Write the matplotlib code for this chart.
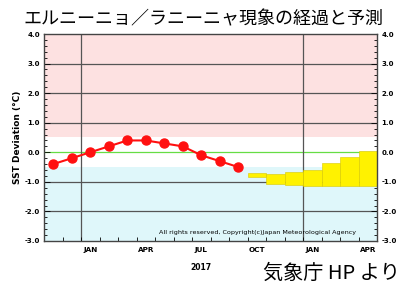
import matplotlib
matplotlib.use("Agg")
import matplotlib.pyplot as plt
from matplotlib.patches import Rectangle
import numpy as np

plt.rcParams["font.family"] = ["Noto Sans CJK JP", "DejaVu Sans"]

# observed monthly SST deviation, Nov 2016 - Sep 2017 (month index 0 = Nov 2016)
obs_month = [0, 1, 2, 3, 4, 5, 6, 7, 8, 9, 10]
obs_val = [-0.4, -0.2, 0.0, 0.2, 0.4, 0.4, 0.3, 0.2, -0.1, -0.3, -0.5]

# forecast range boxes, Oct 2017 - Apr 2018
fc_month = [11, 12, 13, 14, 15, 16, 17]
fc_low = [-0.83, -1.07, -1.12, -1.15, -1.15, -1.15, -1.15]
fc_high = [-0.69, -0.74, -0.68, -0.6, -0.35, -0.17, 0.05]

xt_pos = [2, 5, 8, 11, 14, 17]
xt_lab = ["JAN", "APR", "JUL", "OCT", "JAN", "APR"]
yt = [-3, -2, -1, 0, 1, 2, 3, 4]

C_PINK = "#fde1e1"
C_BLUE = "#dff7fa"
C_RED = "#ff1010"
C_YEL = "#fff200"

fig = plt.figure(figsize=(4.09, 2.85), dpi=100)
ax = fig.add_axes([0.1076, 0.1544, 0.8142, 0.7263])

ax.set_xlim(0, 18)
ax.set_ylim(-3, 4)

ax.axhspan(0.5, 4, color=C_PINK, lw=0, zorder=0)
ax.axhspan(-3, -0.5, color=C_BLUE, lw=0, zorder=0)

for y in [-2, -1, 1, 2, 3]:
    ax.axhline(y, color="#555555", lw=0.9, zorder=1)
ax.axhline(0, color="#66dd44", lw=0.9, zorder=1)
for x in [2, 14]:
    ax.axvline(x, color="#555555", lw=0.9, zorder=1)

for m, lo, hi in zip(fc_month, fc_low, fc_high):
    ax.add_patch(Rectangle((m, lo), 1, hi - lo, facecolor=C_YEL,
                           edgecolor="#d8c800", lw=0.4, zorder=2))

xs = np.array(obs_month) + 0.5
ax.plot(xs, obs_val, color=C_RED, lw=1.5, marker="o", ms=6.5, zorder=3)

ax.text(16.85, -2.72, "All rights reserved, Copyright(c)Japan Meteorological Agency",
        ha="right", va="center", fontsize=4.6, family="DejaVu Sans", zorder=4)

# axes ticks
ax.set_xticks(np.arange(0, 19))
ax.set_xticklabels([])
ax.tick_params(axis="x", which="major", direction="in", length=3, width=0.6)
for p, l in zip(xt_pos, xt_lab):
    ax.text(p + 0.5, -3.2, l, ha="center", va="top", fontsize=5.2,
            fontweight="bold", family="DejaVu Sans")
ax.text(8.5, -3.75, "2017", ha="center", va="top", fontsize=5.5,
        fontweight="bold", family="DejaVu Sans")

ax.set_yticks(yt)
ax.set_yticklabels([f"{v:.1f}" for v in yt], fontsize=5, fontweight="bold",
                   family="DejaVu Sans")
ax.set_yticks(np.arange(-3, 4.01, 0.2), minor=True)
ax.tick_params(axis="y", which="both", direction="in", left=True, right=True,
               labelleft=True, labelright=True, width=0.6)
ax.tick_params(axis="y", which="major", length=4)
ax.tick_params(axis="y", which="minor", length=2.5)
ax.tick_params(axis="both", pad=3)

for s in ax.spines.values():
    s.set_color("#444444")
    s.set_linewidth(1.0)

ax.set_ylabel("SST Deviation (°C)", fontsize=6.5, fontweight="bold",
              family="DejaVu Sans", labelpad=2)

fig.text(0.497, 0.965, "エルニーニョ／ラニーニャ現象の経過と予測", ha="center",
         va="top", fontsize=13)
fig.text(0.978, 0.005, "気象庁 HP より", ha="right", va="bottom", fontsize=14.5)

fig.savefig("out.png", dpi=100)
